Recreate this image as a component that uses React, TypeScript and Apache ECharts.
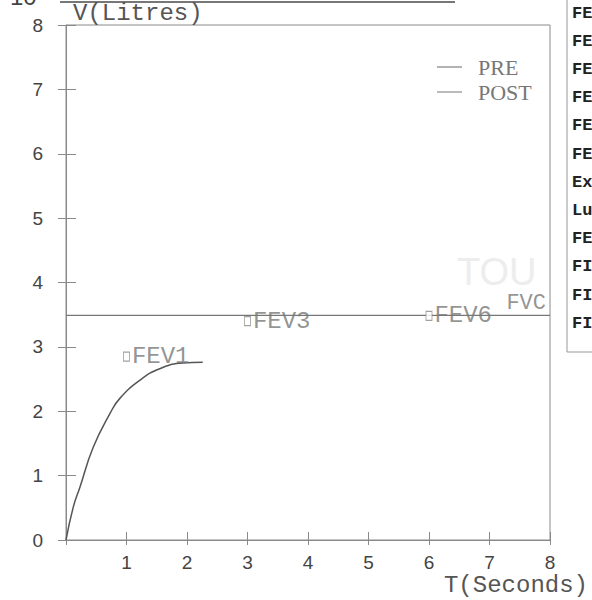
import React, { useEffect, useRef } from "react";
import * as echarts from "echarts";

// Measured (PRE) volume-time curve
const preTime = [0, 0.12, 0.23, 0.45, 0.73, 0.89, 1.22, 1.55, 1.93, 2.26];
const preVolume = [0, 0.51, 0.82, 1.44, 1.97, 2.2, 2.48, 2.66, 2.75, 2.76];

// POST line
const postTime = [0, 8];
const postVolume = [3.49, 3.49];

// Predicted markers
const markerNames = ["FEV1", "FEV3", "FEV6", "FVC"];
const markerTime = [1, 3, 6, 8];
const markerVolume = [2.85, 3.4, 3.48, 3.68];

// Axis ticks
const xTicks = [0, 1, 2, 3, 4, 5, 6, 7, 8];
const yTicks = [0, 1, 2, 3, 4, 5, 6, 7, 8];

// Truncated table on the right
const tableRows = ["FE", "FE", "FE", "FE", "FE", "FE", "Ex", "Lu", "FE", "FI", "FI", "FI"];

export default function App() {
  const ref = useRef<HTMLDivElement>(null);
  useEffect(() => {
    if (!ref.current) return;
    const chart = echarts.init(ref.current, undefined, { renderer: "svg" });
    const axisColor = "#8a8a8a";
    const labelFont = { fontFamily: "Liberation Sans", fontSize: 19, color: "#444" };
    const option: any = {
      animation: false,
      backgroundColor: "#fff",
      grid: {
        show: true,
        borderColor: axisColor,
        borderWidth: 1,
        left: 66,
        right: 42,
        top: 25,
        bottom: 60,
        containLabel: false,
      },
      legend: {
        orient: "vertical",
        left: 432,
        top: 51,
        itemWidth: 25,
        itemHeight: 1,
        itemGap: 3,
        icon: "rect",
        textStyle: {
          fontFamily: "Liberation Serif",
          fontSize: 22,
          color: "#777",
          lineHeight: 20,
          padding: [0, 0, 0, 11],
        },
        data: ["PRE", "POST"],
      },
      xAxis: [
        {
          type: "value",
          min: xTicks[0],
          max: xTicks[xTicks.length - 1],
          interval: 1,
          axisLine: { show: true, lineStyle: { color: axisColor } },
          axisTick: { show: true, length: 5, lineStyle: { color: axisColor } },
          axisLabel: {
            ...labelFont,
            margin: 13,
            formatter: (v: number) => (v === 0 ? "" : String(v)),
          },
          splitLine: { show: false },
          name: "T(Seconds)",
          nameLocation: "end",
          nameGap: 38,
          nameTextStyle: {
            fontFamily: "Liberation Mono",
            fontSize: 24,
            color: "#555",
            align: "right",
            verticalAlign: "top",
            padding: [33, 0, 0, 0],
          },
        },
        {
          type: "value",
          position: "bottom",
          min: xTicks[0],
          max: xTicks[xTicks.length - 1],
          interval: 1,
          axisLine: { show: false },
          axisTick: { show: true, inside: true, length: 8, lineStyle: { color: axisColor } },
          axisLabel: { show: false },
          splitLine: { show: false },
        },
      ],
      yAxis: [
        {
          type: "value",
          min: yTicks[0],
          max: yTicks[yTicks.length - 1],
          interval: 1,
          axisLine: { show: true, lineStyle: { color: axisColor } },
          axisTick: { show: true, length: 8, lineStyle: { color: axisColor } },
          axisLabel: { ...labelFont, margin: 23 },
          splitLine: { show: false },
          name: "V(Litres)",
          nameLocation: "end",
          nameGap: 12,
          nameTextStyle: {
            fontFamily: "Liberation Mono",
            fontSize: 24,
            color: "#555",
            align: "left",
            verticalAlign: "middle",
            padding: [0, 0, 0, 7],
          },
        },
        {
          type: "value",
          position: "left",
          min: yTicks[0],
          max: yTicks[yTicks.length - 1],
          interval: 1,
          axisLine: { show: false },
          axisTick: { show: true, inside: true, length: 10, lineStyle: { color: axisColor } },
          axisLabel: { show: false },
          splitLine: { show: false },
        },
      ],
      series: [
        {
          name: "PRE",
          type: "line",
          data: preTime.map((t, i) => [t, preVolume[i]]),
          smooth: 0.5,
          symbol: "none",
          color: "#666",
          lineStyle: { color: "#555", width: 1.5 },
          z: 3,
        },
        {
          name: "POST",
          type: "line",
          data: postTime.map((t, i) => [t, postVolume[i]]),
          symbol: "none",
          color: "#777",
          lineStyle: { color: "#777", width: 1.2 },
          z: 3,
        },
        {
          name: "markers",
          type: "scatter",
          symbol: "rect",
          symbolSize: [6, 9],
          itemStyle: { color: "#fff", borderColor: "#888", borderWidth: 1 },
          label: {
            show: true,
            position: "right",
            distance: 2,
            formatter: "{b}",
            fontFamily: "Liberation Mono",
            fontSize: 24,
            color: "#777",
          },
          data: markerNames.map((n, i) => {
            const item: any = { name: n, value: [markerTime[i], markerVolume[i]] };
            if (n === "FVC") {
              item.symbolSize = 0;
              item.label = { position: "left", distance: 4, fontSize: 22 };
            }
            return item;
          }),
          z: 4,
        },
      ],
      graphic: [
        {
          type: "text",
          left: 457,
          top: 253,
          z: -1,
          style: {
            text: "TOU",
            fontFamily: "Liberation Sans",
            fontSize: 38,
            fill: "#ededed",
          },
        },
        {
          type: "line",
          shape: { x1: 60, y1: 2, x2: 455, y2: 2 },
          style: { stroke: "#777", lineWidth: 2 },
        },
        {
          type: "text",
          x: 2,
          y: 8,
          style: {
            text: "-10",
            fontFamily: "Liberation Sans",
            fontSize: 24,
            fill: "#444",
            verticalAlign: "bottom",
          },
        },
        {
          type: "rect",
          z: 10,
          shape: { x: 567, y: -2, width: 40, height: 354 },
          style: { fill: "#fff", stroke: "#999", lineWidth: 1 },
        },
        ...tableRows.map((t, i) => ({
          type: "text",
          z: 11,
          x: 572,
          y: 13 + i * 28.2,
          style: {
            text: t,
            fontFamily: "Liberation Mono",
            fontWeight: "bold",
            fontSize: 17,
            fill: "#222",
            verticalAlign: "middle",
          },
        })),
      ],
    };
    chart.setOption(option);
    return () => chart.dispose();
  }, []);
  return (
    <div
      ref={ref}
      style={{ position: "fixed", left: 0, top: 0, width: 592, height: 600 }}
    />
  );
}
